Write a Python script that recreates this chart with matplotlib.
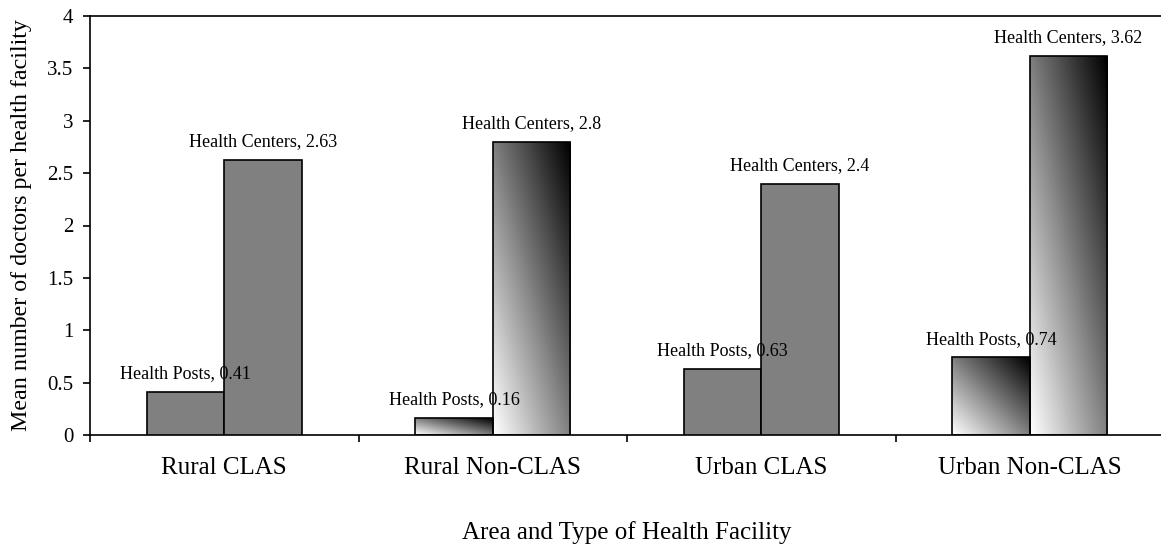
import matplotlib.pyplot as plt
import numpy as np

plt.rcParams['font.family'] = ['Liberation Serif', 'DejaVu Serif']

categories = ['Rural CLAS', 'Rural Non-CLAS', 'Urban CLAS', 'Urban Non-CLAS']
health_posts = [0.41, 0.16, 0.63, 0.74]
health_centers = [2.63, 2.8, 2.4, 3.62]
gradient_fill = [False, True, False, True]

W, H = 1161, 550
fig = plt.figure(figsize=(W / 100, H / 100), dpi=100)
left, right, top, bottom = 90, 1164, 16, 435
ax = fig.add_axes([left / W, 1 - bottom / H, (right - left) / W, (bottom - top) / H])

bw = 0.289
# diagonal shading: white at bottom-left, black at top-right
grad = np.add.outer(np.linspace(1, 0, 64), np.linspace(0, 1, 64)) / 2


def draw_bar(x0, h, use_grad):
    if use_grad:
        rect = plt.Rectangle((x0, 0), bw, h, facecolor='none', edgecolor='black', lw=1.2, zorder=3)
        ax.add_patch(rect)
        im = ax.imshow(grad, cmap='gray_r', vmin=0, vmax=1, extent=(x0, x0 + bw, 0, h),
                       aspect='auto', origin='upper', zorder=2, interpolation='bilinear')
        im.set_clip_path(rect)
    else:
        ax.bar(x0, h, width=bw, align='edge', color='#808080', edgecolor='black', lw=1.2, zorder=3)


for i in range(len(categories)):
    c = i + 0.5
    draw_bar(c - bw, health_posts[i], gradient_fill[i])
    draw_bar(c, health_centers[i], gradient_fill[i])
    ax.annotate(f'Health Posts, {health_posts[i]:g}', (c - bw / 2, health_posts[i]),
                xytext=(0, 7), textcoords='offset points', ha='center', va='bottom', fontsize=13, zorder=4)
    ax.annotate(f'Health Centers, {health_centers[i]:g}', (c + bw / 2, health_centers[i]),
                xytext=(0, 7), textcoords='offset points', ha='center', va='bottom', fontsize=13, zorder=4)

ax.set_xlim(0, 4)
ax.set_ylim(0, 4)
ax.set_yticks(np.arange(0, 4.01, 0.5))
ax.set_yticklabels(['0', '0.5', '1', '1.5', '2', '2.5', '3', '3.5', '4'])
ax.set_xticks([0.5, 1.5, 2.5, 3.5])
ax.set_xticklabels(categories)
ax.set_xticks([0, 1, 2, 3, 4], minor=True)
ax.tick_params(axis='x', which='major', length=0, labelsize=18, pad=16)
ax.tick_params(axis='x', which='minor', length=5, width=1.2, direction='out')
ax.tick_params(axis='y', length=5, width=1.2, direction='out', labelsize=15, pad=7)
for s in ax.spines.values():
    s.set_linewidth(1.2)
ax.spines['right'].set_visible(False)

fig.text(0.5 * (left + right) / W, 1 - 533 / H, 'Area and Type of Health Facility',
         ha='center', va='center', fontsize=18)
fig.text(22 / W, 1 - 431 / H, 'Mean number of doctors per health facility',
         rotation=90, ha='center', va='bottom', fontsize=17.3)

fig.savefig('out.png', dpi=100)
